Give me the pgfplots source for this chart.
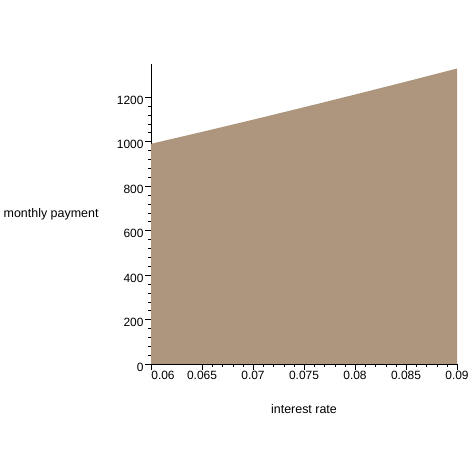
\documentclass[border=0pt]{standalone}
\usepackage{fontspec}
\setmainfont{Liberation Sans}
\usepackage{pgfplots}
\pgfplotsset{compat=1.18}
\definecolor{tanfill}{HTML}{AD967D}
\begin{document}
\begin{tikzpicture}
\useasboundingbox (0,0) rectangle (474bp,474bp);
\begin{axis}[
  at={(151bp,110bp)}, anchor=south west,
  scale only axis,
  width=306bp, height=300bp,
  xmin=0.06, xmax=0.09,
  ymin=0, ymax=1348,
  axis lines=left,
  axis line style={-, black},
  tick align=outside,
  major tick length=6bp,
  minor tick length=3bp,
  tick style={black},
  scaled x ticks=false,
  xtick={0.065,0.07,0.075,0.08,0.085,0.09},
  xticklabels={0.065,0.07,0.075,0.08,0.085,0.09},
  extra x ticks={0.06},
  extra x tick labels={0.06},
  extra x tick style={xticklabel style={xshift=12bp}},
  minor x tick num=4,
  ytick={0,200,400,600,800,1000,1200},
  yticklabels={0,200,400,600,800,1000,1200},
  minor y tick num=4,
  ticklabel style={font=\fontsize{12}{14}\selectfont},
  xticklabel style={yshift=2bp},
  yticklabel style={yshift=-3bp, xshift=2bp},
  xlabel={interest rate},
  ylabel={monthly payment},
  label style={font=\fontsize{12.5}{14}\selectfont},
  xlabel style={at={(axis description cs:0.5,-0.15)}, anchor=center},
  ylabel style={at={(axis description cs:-0.16,0.5)}, anchor=east, rotate=-90},
  clip=false,
]
\addplot[fill=tanfill, draw=none] coordinates {
  (0.060,989.3) (0.065,1042.9) (0.070,1097.7) (0.075,1153.7)
  (0.080,1210.7) (0.085,1268.7) (0.090,1327.6)
} \closedcycle;
\end{axis}
\end{tikzpicture}
\end{document}
